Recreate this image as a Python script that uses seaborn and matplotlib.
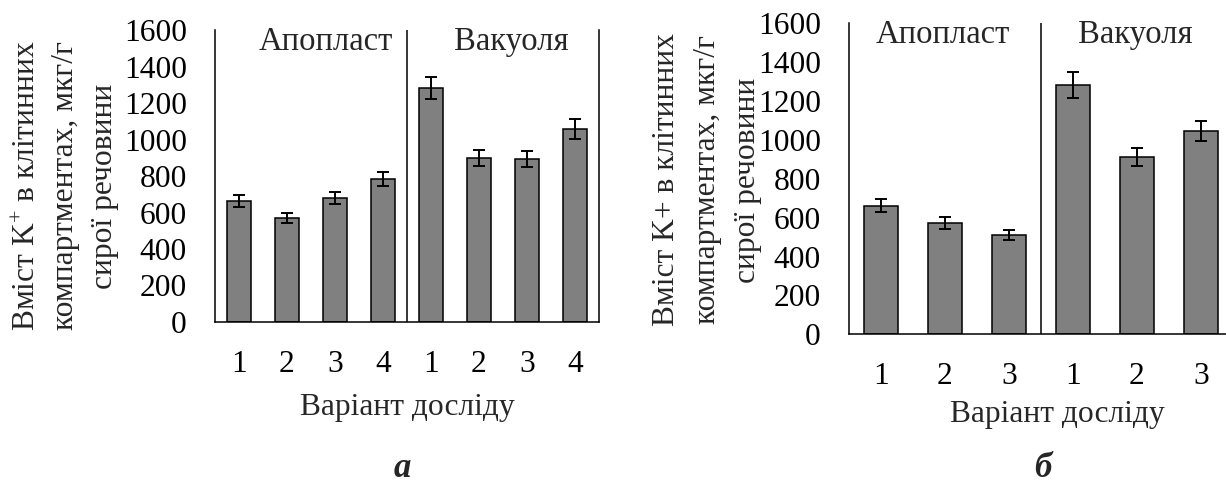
import matplotlib
matplotlib.use("Agg")
import matplotlib.pyplot as plt
import pandas as pd
import seaborn as sns

# Panel "а": four variants
variants_a = ["1", "2", "3", "4"]
apoplast_a = [663, 569, 678, 784]
apoplast_a_err = [33, 29, 34, 38]
vacuole_a = [1282, 897, 895, 1056]
vacuole_a_err = [62, 44, 44, 55]

# Panel "б": three variants
variants_b = ["1", "2", "3"]
apoplast_b = [661, 571, 512]
apoplast_b_err = [33, 31, 27]
vacuole_b = [1282, 913, 1046]
vacuole_b_err = [65, 47, 53]

y_ticks = [0, 200, 400, 600, 800, 1000, 1200, 1400, 1600]
group_names = ["Апопласт", "Вакуоля"]
x_title = "Варіант досліду"

sns.set_style("white")
plt.rcParams["font.family"] = ["Liberation Serif", "DejaVu Serif"]
plt.rcParams["mathtext.fontset"] = "custom"
plt.rcParams["mathtext.rm"] = "Liberation Serif"
plt.rcParams["mathtext.it"] = "Liberation Serif:italic"

FS = 22.7
FS_GROUP = 23.5
LW = 1.1
W, H = 1226, 486

fig = plt.figure(figsize=(W / 100, H / 100), dpi=100)


def px_axes(left, right, top, bottom):
    return fig.add_axes([left / W, (H - bottom) / H, (right - left) / W, (bottom - top) / H])


def panel(ax, variants, apo, apo_err, vac, vac_err, label_pos):
    slots = [f"{group_names[0]} {v}" for v in variants] + [f"{group_names[1]} {v}" for v in variants]
    values = apo + vac
    errors = apo_err + vac_err
    df = pd.DataFrame({"slot": slots, "value": values})
    sns.barplot(data=df, x="slot", y="value", order=slots, color="#808080",
                saturation=1, width=0.52, edgecolor="black", linewidth=LW,
                errorbar=None, ax=ax)
    centers = [p.get_x() + p.get_width() / 2 for p in ax.patches]
    ax.errorbar(centers, values, yerr=errors, fmt="none", ecolor="black",
                elinewidth=1.4, capsize=4.6, capthick=1.4)
    n = len(variants)
    ax.set_xlim(-0.5, 2 * n - 0.5)
    ax.set_ylim(0, 1600)
    ax.set_yticks(y_ticks)
    ax.set_yticklabels([str(t) for t in y_ticks], fontsize=FS)
    ax.set_xticks(range(2 * n))
    ax.set_xticklabels(variants + variants, fontsize=FS)
    ax.set_ylabel("")
    ax.axvline(n - 0.5, color="black", lw=LW)
    ax.tick_params(axis="y", direction="out", length=7.2, width=LW, pad=13, colors="black")
    ax.tick_params(axis="x", length=0, pad=20, colors="black")
    ax.spines["top"].set_visible(False)
    for s in ("left", "bottom", "right"):
        ax.spines[s].set_color("black")
        ax.spines[s].set_linewidth(LW)
    (gx0, gy0), (gx1, gy1) = label_pos
    ax.text(gx0, gy0, group_names[0], fontsize=FS_GROUP, ha="center", va="baseline")
    ax.text(gx1, gy1, group_names[1], fontsize=FS_GROUP, ha="center", va="baseline")
    ax.set_xlabel(x_title, fontsize=FS)
    ax.xaxis.label.set_va("baseline")


ax_a = px_axes(215, 599, 30, 322)
panel(ax_a, variants_a, apoplast_a, apoplast_a_err, vacuole_a, vacuole_a_err,
      ((1.81, 1490), (5.67, 1490)))
ax_a.xaxis.set_label_coords(0.5, (322 - 415) / 292)

ax_b = px_axes(849, 1233, 23.3, 334.3)
panel(ax_b, variants_b, apoplast_b, apoplast_b_err, vacuole_b, vacuole_b_err,
      ((0.96, 1500), (3.98, 1500)))
ax_b.xaxis.set_label_coords((1057 - 849) / 384, (334.3 - 422) / 311)

ylab_a = "Вміст K$^{+}$ в клітинних\nкомпартментах, мкг/г\nсирої речовини"
ylab_b = "Вміст K+ в клітинних\nкомпартментах, мкг/г\nсирої речовини"
fig.text(66 / W, 1 - 186 / H, ylab_a, rotation=90, fontsize=FS, ha="center",
         va="center", multialignment="center", linespacing=1.42)
fig.text(707 / W, 1 - 180 / H, ylab_b, rotation=90, fontsize=FS, ha="center",
         va="center", multialignment="center", linespacing=1.52)

fig.text(402 / W, 1 - 477 / H, "а", fontsize=25, fontweight="bold",
         fontstyle="italic", ha="center", va="baseline")
fig.text(1043 / W, 1 - 477 / H, "б", fontsize=25, fontweight="bold",
         fontstyle="italic", ha="center", va="baseline")

fig.savefig("out.png", dpi=100)
